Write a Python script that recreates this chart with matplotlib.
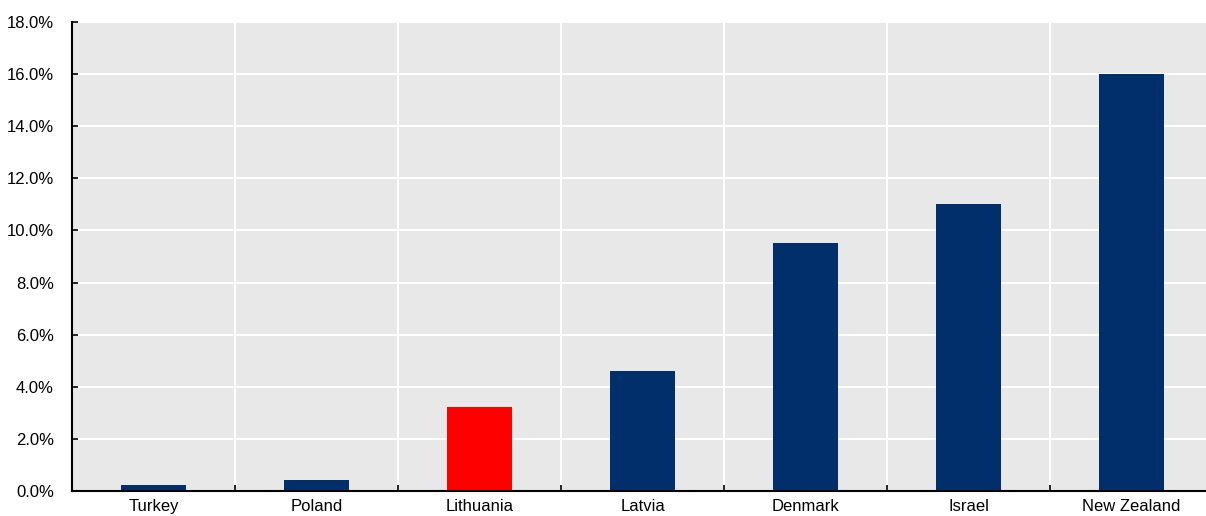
import matplotlib
matplotlib.use("Agg")
import matplotlib.pyplot as plt
from matplotlib.ticker import FixedLocator, PercentFormatter, NullFormatter

plt.rcParams['font.family'] = ['Liberation Sans', 'DejaVu Sans']

countries = ["Turkey", "Poland", "Lithuania", "Latvia", "Denmark", "Israel", "New Zealand"]
values = [0.23, 0.42, 3.22, 4.6, 9.5, 11.0, 16.0]
highlight = "Lithuania"

navy = "#002F6C"
red = "#FF0000"
colors = [red if c == highlight else navy for c in countries]

W, H = 1206, 516
fig = plt.figure(figsize=(W / 100, H / 100), dpi=100)
left, bottom, top = 72 / W, (H - 491) / H, (H - 22) / H
ax = fig.add_axes([left, bottom, 7 * 163 / W, top - bottom])
ax.set_facecolor("#E8E8E8")

x = list(range(len(countries)))
ax.bar(x, values, width=0.4, color=colors, zorder=3)

ax.set_xlim(-0.5, len(countries) - 0.5)
ax.set_ylim(0, 18)
ax.yaxis.set_major_locator(FixedLocator([0, 2, 4, 6, 8, 10, 12, 14, 16, 18]))
ax.yaxis.set_major_formatter(PercentFormatter(decimals=1))

ax.set_xticks(x)
ax.set_xticklabels(countries)
ax.xaxis.set_minor_locator(FixedLocator([i + 0.5 for i in range(len(countries) - 1)]))
ax.xaxis.set_minor_formatter(NullFormatter())

ax.grid(axis="y", which="major", color="white", linewidth=1.5, zorder=1)
ax.grid(axis="x", which="minor", color="white", linewidth=1.5, zorder=1)
ax.set_axisbelow(True)

ax.tick_params(axis="x", which="major", length=0, pad=6, labelsize=12)
ax.tick_params(axis="x", which="minor", direction="in", length=4, width=1.2, color="black")
ax.tick_params(axis="y", which="major", direction="in", length=4, width=1.2, pad=13, labelsize=12)

for side in ("top", "right"):
    ax.spines[side].set_visible(False)
for side in ("left", "bottom"):
    ax.spines[side].set_color("black")
    ax.spines[side].set_linewidth(1.5)
    ax.spines[side].set_zorder(4)

fig.savefig("out.png", dpi=100)
